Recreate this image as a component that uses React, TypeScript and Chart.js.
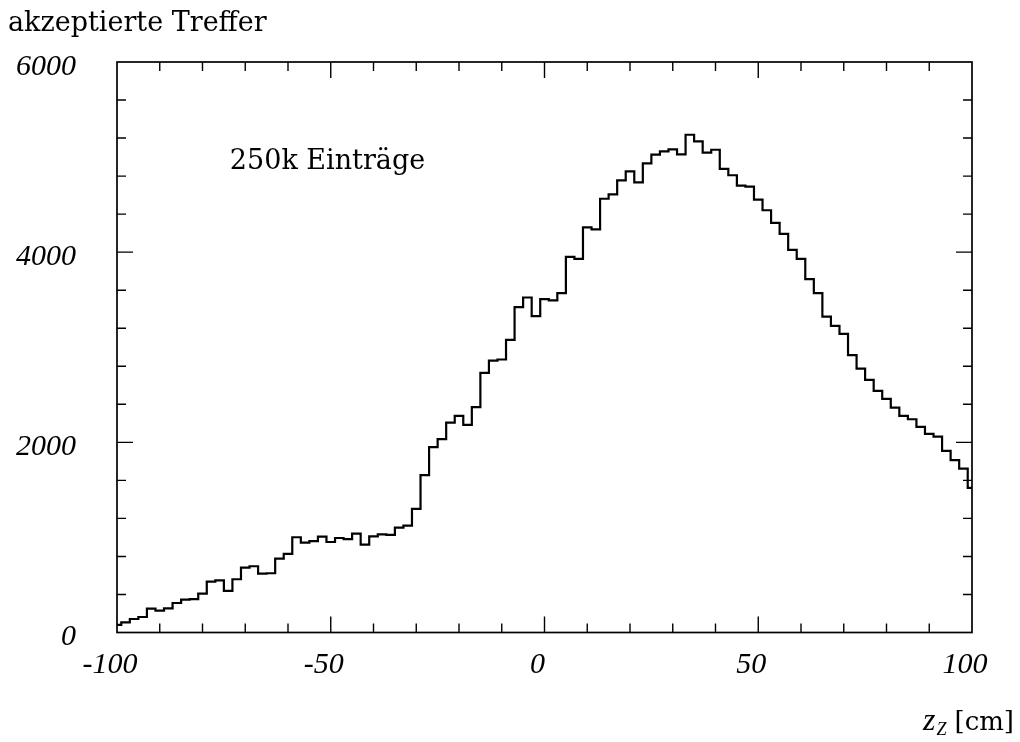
import { useEffect, useRef } from "react";
import { Chart, registerables } from "chart.js";

Chart.register(...registerables);

// Histogram: bins of 2 cm centred on -100, -98, ..., 100 (counts)
const BIN_LOW = -100;
const BIN_WIDTH = 2;
const COUNTS = [
  80, 107, 142, 163, 251, 230, 254, 310, 345, 352,
  408, 535, 549, 437, 560, 682, 697, 619, 623, 777,
  826, 1002, 945, 960, 1008, 952, 994, 981, 1040, 924,
  1012, 1033, 1026, 1103, 1125, 1300, 1655, 1950, 2033, 2208,
  2278, 2183, 2370, 2731, 2860, 2871, 3078, 3422, 3523, 3327,
  3506, 3492, 3569, 3950, 3930, 4260, 4239, 4562, 4607, 4755,
  4849, 4733, 4933, 5025, 5060, 5081, 5028, 5235, 5165, 5046,
  5077, 4877, 4809, 4700, 4690, 4552, 4441, 4309, 4193, 4025,
  3930, 3717, 3569, 3323, 3225, 3141, 2917, 2776, 2657, 2541,
  2457, 2366, 2278, 2243, 2162, 2089, 2061, 1910, 1812, 1724,
  1520,
];

const X_MIN = -100;
const X_MAX = 100;
const Y_MIN = 0;
const Y_MAX = 6000;
const X_LABEL_STEP = 50;
const Y_LABEL_STEP = 2000;
const X_MINOR_STEP = 10;
const Y_MINOR_STEP = 400;

const Y_TITLE = "akzeptierte Treffer";
const NOTE_TEXT = "250k Einträge";
const NOTE_POS = { x: -73.6, y: 4870 };
const X_TITLE_MAIN = "z";
const X_TITLE_SUB = "Z";
const X_TITLE_UNIT = "[cm]";

const TICK_FONT = "'Liberation Serif', serif";
const TEXT_FONT = "'DejaVu Serif', serif";

const framePlugin = {
  id: "frameTicks",
  afterDatasetsDraw(chart: any) {
    const { ctx, chartArea, scales } = chart;
    const { left, right, top, bottom } = chartArea;
    const x = scales.x;
    const y = scales.y;
    ctx.save();
    ctx.strokeStyle = "#000";
    ctx.lineWidth = 1.7;
    ctx.strokeRect(left, top, right - left, bottom - top);
    ctx.lineWidth = 1.4;
    ctx.beginPath();
    for (let v = X_MIN + X_MINOR_STEP; v < X_MAX; v += X_MINOR_STEP) {
      const px = x.getPixelForValue(v);
      const len = v % X_LABEL_STEP === 0 ? 16 : 9;
      ctx.moveTo(px, bottom);
      ctx.lineTo(px, bottom - len);
      ctx.moveTo(px, top);
      ctx.lineTo(px, top + len);
    }
    for (let v = Y_MIN + Y_MINOR_STEP; v < Y_MAX; v += Y_MINOR_STEP) {
      const py = y.getPixelForValue(v);
      const len = v % Y_LABEL_STEP === 0 ? 16 : 9;
      ctx.moveTo(left, py);
      ctx.lineTo(left + len, py);
      ctx.moveTo(right, py);
      ctx.lineTo(right - len, py);
    }
    ctx.stroke();
    ctx.restore();
  },
  afterDraw(chart: any) {
    const { ctx, scales } = chart;
    const x = scales.x;
    const y = scales.y;
    ctx.save();
    ctx.fillStyle = "#000";
    ctx.textBaseline = "alphabetic";
    // y-axis title at top left
    ctx.font = `27px ${TEXT_FONT}`;
    ctx.textAlign = "left";
    ctx.fillText(Y_TITLE, 8, 31);
    // note inside the plot
    ctx.font = `27px ${TEXT_FONT}`;
    ctx.fillText(NOTE_TEXT, x.getPixelForValue(NOTE_POS.x), y.getPixelForValue(NOTE_POS.y));
    // x-axis title z_Z [cm], right aligned
    const rightEdge = 1014;
    const base = 730;
    ctx.font = `26px ${TEXT_FONT}`;
    ctx.textAlign = "right";
    ctx.fillText(X_TITLE_UNIT, rightEdge, base);
    const unitW = ctx.measureText(X_TITLE_UNIT).width;
    let cur = rightEdge - unitW - 8;
    ctx.font = `italic 18px ${TICK_FONT}`;
    ctx.fillText(X_TITLE_SUB, cur, base + 5);
    cur -= ctx.measureText(X_TITLE_SUB).width + 1;
    ctx.font = `italic 32px ${TICK_FONT}`;
    ctx.fillText(X_TITLE_MAIN, cur, base);
    ctx.restore();
  },
};

export default function App() {
  const canvasRef = useRef<HTMLCanvasElement | null>(null);

  useEffect(() => {
    if (!canvasRef.current) return;
    const points = COUNTS.map((c, i) => ({ x: BIN_LOW + i * BIN_WIDTH, y: c }));
    const chart = new Chart(canvasRef.current, {
      type: "line",
      data: {
        datasets: [
          {
            data: points,
            stepped: "middle",
            borderColor: "#000",
            borderWidth: 2.2,
            pointRadius: 0,
            fill: false,
          },
        ],
      },
      options: {
        animation: false,
        responsive: true,
        maintainAspectRatio: false,
        layout: { padding: { top: 62, right: 48, left: 0, bottom: 0 } },
        plugins: {
          legend: { display: false },
          tooltip: { enabled: false },
          title: { display: false },
        },
        scales: {
          x: {
            type: "linear",
            min: X_MIN,
            max: X_MAX,
            grid: { display: false, drawTicks: false },
            border: { display: false },
            ticks: {
              stepSize: X_LABEL_STEP,
              autoSkip: false,
              maxRotation: 0,
              padding: 15,
              labelOffset: -7,
              color: "#000",
              font: { family: TICK_FONT, style: "italic", size: 30 },
              callback: (v: any) => String(v),
            },
            afterFit: (scale: any) => {
              scale.height = 109.5;
            },
          },
          y: {
            type: "linear",
            min: Y_MIN,
            max: Y_MAX,
            grid: { display: false, drawTicks: false },
            border: { display: false },
            ticks: {
              stepSize: Y_LABEL_STEP,
              autoSkip: false,
              padding: 41,
              labelOffset: 5,
              color: "#000",
              font: { family: TICK_FONT, style: "italic", size: 30 },
              callback: (v: any) => String(v),
            },
            afterFit: (scale: any) => {
              scale.width = 117;
            },
          },
        },
      },
      plugins: [framePlugin],
    });
    return () => chart.destroy();
  }, []);

  return (
    <div style={{ position: "absolute", left: 0, top: 0, width: 1020, height: 742, background: "#fff" }}>
      <canvas ref={canvasRef} />
    </div>
  );
}
